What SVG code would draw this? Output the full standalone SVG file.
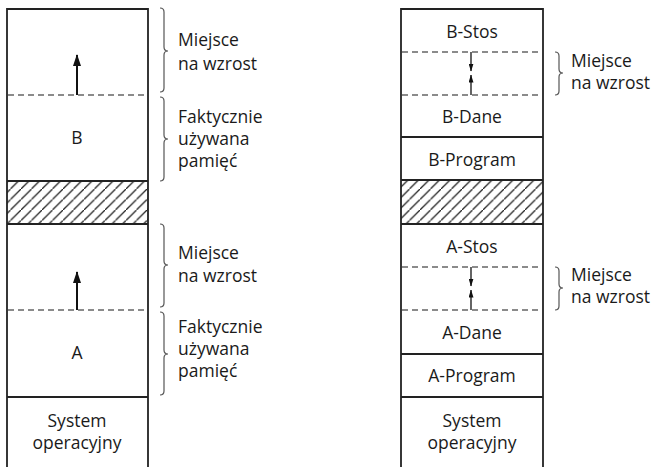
<svg xmlns="http://www.w3.org/2000/svg" width="659" height="467" viewBox="0 0 659 467">
<style>
.t{font-family:"Open Sans","Noto Sans",sans-serif;font-size:17.5px;fill:#1a1a1a}
.c{text-anchor:middle}
.s{stroke:#222;stroke-width:1.8;fill:none}
.d{stroke:#666;stroke-width:1.5;stroke-dasharray:6,4;fill:none}
.b{stroke:#555;stroke-width:1.2;fill:none}
.a{stroke:#111;stroke-width:2;fill:none}
.a2{stroke:#111;stroke-width:1.3;fill:none}
</style>
<defs>
<pattern id="hatch" patternUnits="userSpaceOnUse" width="10.5" height="10.5">
<path d="M-1,11.5 L11.5,-1 M-3,2 L2,-3 M8.5,13.5 L13.5,8.5" stroke="#222" stroke-width="1.3"/>
</pattern>
<marker id="ah" markerWidth="12" markerHeight="8" refX="11" refY="4" orient="auto" markerUnits="userSpaceOnUse" viewBox="0 0 12 8">
<path d="M0,0 L12,4 L0,8 Z" fill="#111"/>
</marker>
<marker id="ah2" markerWidth="8" markerHeight="5" refX="7.5" refY="2.5" orient="auto" markerUnits="userSpaceOnUse" viewBox="0 0 8 5">
<path d="M0,0 L8,2.5 L0,5 Z" fill="#111"/>
</marker>
</defs>

<g id="left-column">
<rect x="7" y="181" width="141" height="43" fill="url(#hatch)"/>
<path class="s" d="M7,467 L7,9 L148,9 L148,467"/>
<line class="s" x1="7" y1="181" x2="148" y2="181"/>
<line class="s" x1="7" y1="224" x2="148" y2="224"/>
<line class="s" x1="7" y1="397" x2="148" y2="397"/>
<line class="d" x1="8" y1="95" x2="147" y2="95"/>
<line class="d" x1="8" y1="310" x2="147" y2="310"/>
</g>
<g id="node-B"><text class="t c" x="77" y="144">B</text></g>
<g id="node-A"><text class="t c" x="77" y="359">A</text></g>
<g id="node-system-left"><text class="t c" x="77" y="427">System</text><text class="t c" x="77" y="449">operacyjny</text></g>

<g id="right-column">
<rect x="401" y="180" width="142" height="44" fill="url(#hatch)"/>
<path class="s" d="M401,467 L401,9 L543,9 L543,467"/>
<line class="s" x1="401" y1="137" x2="543" y2="137"/>
<line class="s" x1="401" y1="180" x2="543" y2="180"/>
<line class="s" x1="401" y1="224" x2="543" y2="224"/>
<line class="s" x1="401" y1="354" x2="543" y2="354"/>
<line class="s" x1="401" y1="397" x2="543" y2="397"/>
<line class="d" x1="402" y1="52" x2="542" y2="52"/>
<line class="d" x1="402" y1="95" x2="542" y2="95"/>
<line class="d" x1="402" y1="267" x2="542" y2="267"/>
<line class="d" x1="402" y1="310" x2="542" y2="310"/>
</g>
<g id="node-B-Stos"><text class="t c" x="472" y="38">B-Stos</text></g>
<g id="node-B-Dane"><text class="t c" x="472" y="123">B-Dane</text></g>
<g id="node-B-Program"><text class="t c" x="472" y="166">B-Program</text></g>
<g id="node-A-Stos"><text class="t c" x="472" y="253">A-Stos</text></g>
<g id="node-A-Dane"><text class="t c" x="472" y="339">A-Dane</text></g>
<g id="node-A-Program"><text class="t c" x="472" y="382">A-Program</text></g>
<g id="node-system-right"><text class="t c" x="472" y="427">System</text><text class="t c" x="472" y="449">operacyjny</text></g>

<g id="connectors">
<line class="a" x1="77" y1="95" x2="77" y2="55" marker-end="url(#ah)"/>
<line class="a" x1="77" y1="310" x2="77" y2="272" marker-end="url(#ah)"/>
<line class="a2" x1="471" y1="52" x2="471" y2="71" marker-end="url(#ah2)"/>
<line class="a2" x1="471" y1="95" x2="471" y2="75" marker-end="url(#ah2)"/>
<line class="a2" x1="471" y1="267" x2="471" y2="286" marker-end="url(#ah2)"/>
<line class="a2" x1="471" y1="310" x2="471" y2="290" marker-end="url(#ah2)"/>
<path class="b" d="M160,8 Q164,8 164,12 L164,47 Q164,51 168,51 Q164,51 164,55 L164,88 Q164,92 160,92"/>
<path class="b" d="M160,97 Q164,97 164,101 L164,135 Q164,139 168,139 Q164,139 164,143 L164,177 Q164,181 160,181"/>
<path class="b" d="M160,224 Q164,224 164,228 L164,261 Q164,265 168,265 Q164,265 164,269 L164,303 Q164,307 160,307"/>
<path class="b" d="M160,312 Q164,312 164,316 L164,350 Q164,354 168,354 Q164,354 164,358 L164,391 Q164,395 160,395"/>
<path class="b" d="M555,52 Q559,52 559,56 L559,69 Q559,73 563,73 Q559,73 559,77 L559,91 Q559,95 555,95"/>
<path class="b" d="M555,267 Q559,267 559,271 L559,284 Q559,288 563,288 Q559,288 559,292 L559,306 Q559,310 555,310"/>
</g>

<g id="labels">
<text class="t" x="178" y="46">Miejsce</text>
<text class="t" x="178" y="70">na wzrost</text>
<text class="t" x="178" y="123">Faktycznie</text>
<text class="t" x="178" y="145">używana</text>
<text class="t" x="178" y="167">pamięć</text>
<text class="t" x="178" y="259">Miejsce</text>
<text class="t" x="178" y="282">na wzrost</text>
<text class="t" x="178" y="333">Faktycznie</text>
<text class="t" x="178" y="355">używana</text>
<text class="t" x="178" y="377">pamięć</text>
<text class="t" x="571" y="67">Miejsce</text>
<text class="t" x="571" y="89">na wzrost</text>
<text class="t" x="571" y="281">Miejsce</text>
<text class="t" x="571" y="303">na wzrost</text>
</g>
</svg>
